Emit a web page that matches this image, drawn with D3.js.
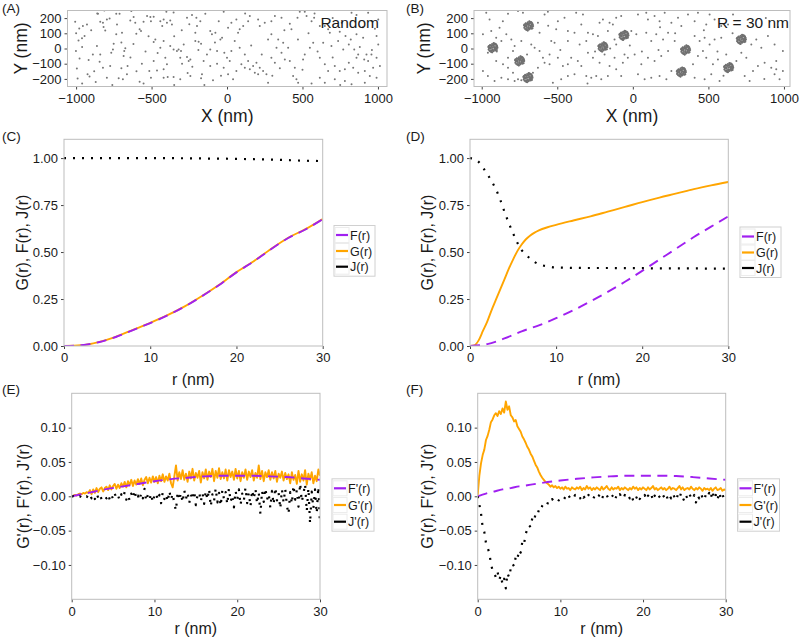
<!DOCTYPE html>
<html><head><meta charset="utf-8">
<script src="https://cdn.jsdelivr.net/npm/d3@7"></script>
<style>body{margin:0;background:#fff} svg{display:block;font-family:"Liberation Sans",Arial,Helvetica,sans-serif}</style>
</head><body><svg id="c" width="800" height="640"></svg>
<script>
// ---------- DATA ----------
// Panel A: random (CSR) points, nm
const randomPts = [[-1006,176],[-979,132],[-955,148],[-928,158],[-855,229],[-840,176],[-822,169],[-813,250],[-796,191],[-778,198],[-734,229],[-712,229],[-729,158],[-734,93],[-696,104],[-818,141],[-807,119],[-984,53],[-961,67],[-944,82],[-1001,-17],[-977,-65],[-995,-131],[-990,-198],[-924,-170],[-911,-185],[-917,-76],[-889,-39],[-862,16],[-840,-39],[-844,-87],[-822,-126],[-796,-192],[-774,-115],[-767,-28],[-751,31],[-756,-6],[-718,-196],[-690,-203],[-681,-17],[-674,1],[-685,-50],[-659,-115],[-663,-170],[-641,185],[-619,207],[-608,169],[-601,97],[-579,126],[-570,115],[-553,176],[-530,213],[-504,180],[-486,209],[-564,-100],[-579,-218],[-553,-231],[-515,-148],[-504,-192],[-486,-82],[-486,42],[-475,60],[-442,180],[-420,191],[-429,148],[-398,169],[-376,185],[-365,158],[-402,242],[-354,237],[-420,49],[-442,5],[-409,-61],[-398,-104],[-420,-137],[-464,-144],[-420,-192],[-393,-188],[-376,16],[-354,-6],[-321,-6],[-332,-17],[-305,-17],[-287,27],[-310,-61],[-265,-56],[-243,-72],[-298,-100],[-254,-82],[-354,-188],[-310,-203],[-261,-161],[-243,-181],[-210,49],[-188,45],[-172,31],[-210,104],[-199,148],[-177,180],[-144,229],[-111,115],[-100,93],[-77,104],[-55,180],[-44,60],[-33,71],[-22,242],[-18,-28],[-66,-17],[-111,-6],[-133,-39],[-155,-82],[-111,-115],[-66,-100],[-166,-170],[-172,-196],[-93,-209],[-22,-126],[0,-61],[-232,220],[-265,202],[-203,202],[-634,246],[-508,207],
[-960,-230],[-870,-220],[-760,-240],[-640,-60],[-620,30],[-540,-20],[-900,120],[-1000,100],[-860,230],[-700,40],[-600,-150],[-520,80],[-460,-30],[-350,80],[-300,120],[-250,160],[-150,-240],[-80,40],[-40,-180],[-190,-10],[-230,-120],[-350,-240],[-700,-130],[-880,-150],[-960,10],
[7,137],[29,169],[62,191],[84,126],[107,148],[140,180],[151,213],[206,191],[217,148],[250,169],[294,180],[317,213],[361,202],[416,163],[427,126],[467,202],[482,242],[515,242],[527,213],[560,180],[577,202],[615,148],[648,148],[670,126],[681,104],[825,235],[858,220],[935,235],[957,180],[1002,191],[747,110],[785,82],[820,60],[858,93],[902,71],[991,82],[1002,27],[957,-39],[935,-82],[909,-72],[869,-39],[843,-6],[807,27],[770,-6],[736,49],[692,16],[637,38],[615,-61],[648,-104],[670,-148],[714,-115],[747,-148],[781,-137],[807,-93],[836,-126],[869,-159],[913,-148],[946,-181],[991,-192],[1013,-115],[991,-61],[73,104],[51,49],[84,5],[118,-39],[140,-82],[95,-104],[62,-148],[118,-126],[151,-137],[173,-115],[195,-93],[217,-126],[239,-148],[261,-170],[206,-170],[184,-159],[294,-61],[317,-93],[328,5],[361,-28],[383,-72],[416,-82],[449,-126],[438,-181],[460,-203],[471,-225],[504,-72],[515,-39],[549,5],[571,38],[272,60],[294,93],[339,60],[372,38],[405,5],[29,-17],[18,-82],[7,-170],[40,-203],[272,-225],[615,-192],[648,-225],[714,-203],[781,-214],[825,-236],[913,-225],[968,-126],[924,-39],[858,-61],
[580,230],[700,200],[760,170],[900,140],[980,130],[540,100],[470,60],[160,20],[230,-40],[350,-130],[500,-140],[560,-230],[700,-60],[750,-240],[960,-10],[880,10],[120,230],[380,120],[600,-20],[300,-180]];

// Panel B: background points, cluster centres and a cluster member pattern (nm)
const backgroundPts = [[-970,235],[-948,191],[-992,93],[-937,115],[-904,71],[-882,137],[-870,49],[-837,93],[-826,229],[-804,60],[-782,16],[-760,246],[-727,235],[-738,49],[-672,27],[-650,5],[-617,-17],[-628,169],[-584,224],[-562,242],[-617,104],[-540,49],[-518,38],[-507,126],[-551,-39],[-595,-61],[-584,-93],[-551,-104],[-628,-126],[-661,-159],[-793,-17],[-826,-61],[-859,-104],[-904,-82],[-959,-28],[-992,-148],[-959,-181],[-915,-214],[-870,-192],[-826,-203],[-782,-214],[-760,-203],[-738,-209],[-826,-126],[-793,-159],[-496,-61],[-463,-115],[-430,-104],[-408,-61],[-364,-82],[-341,-115],[-386,-170],[-308,-181],[-275,-192],[-242,-181],[-430,-181],[-474,-203],[-529,-225],[-496,180],[-452,202],[-430,115],[-386,104],[-375,235],[-330,224],[-341,158],[-297,104],[-264,93],[-231,82],[-308,49],[-352,27],[-430,49],[-220,169],[-198,191],[-154,169],[-132,158],[-110,202],[-77,213],[-165,115],[-121,60],[-110,27],[-55,-39],[-33,-61],[-66,-93],[-121,-61],[-154,-115],[-110,-137],[-77,-181],[-165,-181],[-209,-203],[-297,-28],[-264,-61],[-220,-93],[-187,-39],
[-10,115],[23,93],[34,224],[89,235],[100,191],[144,213],[177,180],[211,235],[255,169],[299,202],[321,148],[365,224],[409,180],[431,235],[486,158],[508,224],[541,191],[585,148],[630,158],[663,224],[89,104],[122,49],[155,93],[200,60],[233,104],[277,49],[409,82],[442,49],[475,71],[508,27],[541,60],[585,71],[784,27],[817,60],[850,5],[894,82],[938,27],[993,-17],[949,-82],[916,-126],[872,-93],[828,-115],[795,-148],[751,-61],[718,-28],[685,-82],[618,-39],[563,-72],[530,-104],[486,-61],[464,-17],[431,-50],[398,-104],[233,-17],[188,-50],[144,-82],[100,-61],[56,-104],[12,-39],[34,-170],[78,-203],[122,-192],[177,-181],[222,-203],[255,-148],[409,-192],[475,-203],[519,-170],[574,-214],[740,-181],[773,-214],[938,-170],[971,-203],[993,-148],[949,-137],
[-900,-20],[-860,180],[-700,-40],[-560,150],[-480,-10],[-250,-20],[-150,0],[-20,20],[60,-20],[170,-10],[280,100],[470,120],[560,-20],[660,100],[880,200],[960,140],[870,-200],[600,-180],[180,140],[-300,-230]];
const clusterCentres = [[-926,5],[-749,-82],[-690,148],[-694,-192],[-198,10],[-59,86],[349,-10],[321,-155],[634,-126],[718,60]];
const clusterPattern = [[0,0],[10,5],[-8,12],[15,-10],[-14,-6],[22,8],[-20,14],[5,-22],[-5,24],[25,-5],[-25,-3],[12,20],[-12,-20],[18,-18],[-18,18],[28,10],[-27,10],[8,28],[-8,-28],[20,22],[-22,-20],[2,12],[-3,-12],[13,-2],[-13,2],[26,-15],[-15,-25],[16,26],[-28,-12],[0,-18],[9,-14],[-9,14],[20,0],[-20,0],[4,18],[30,0],[-30,5],[5,30],[-5,-30],[24,18]];

// Panels C/D: cumulative functions
const rCoarse = [0,2,4,6,8,10,12,14,16,18,20,22,24,26,28,30];
const F_random = [0,0.004,0.02,0.048,0.085,0.122,0.163,0.21,0.265,0.325,0.392,0.45,0.515,0.575,0.62,0.675];
const G_random = [0,0.004,0.021,0.049,0.086,0.123,0.164,0.211,0.266,0.326,0.393,0.451,0.516,0.576,0.622,0.676];
const J_random = [1,1,1,1,1,1,1,0.999,0.998,0.997,0.996,0.994,0.992,0.989,0.986,0.984];
const rDense = [0,0.5,1,1.5,2,2.5,3,3.5,4,4.5,5,5.5,6,6.5,7,7.5,8,9,10,12,14,16,18,20,22,24,26,28,30];
const G_clust = [0,0.003,0.03,0.08,0.13,0.19,0.245,0.30,0.355,0.41,0.46,0.505,0.54,0.568,0.588,0.603,0.615,0.632,0.645,0.668,0.69,0.715,0.74,0.766,0.79,0.812,0.835,0.855,0.873];
const J_clust = [1.0,0.995,0.98,0.95,0.915,0.878,0.835,0.78,0.715,0.655,0.6,0.55,0.51,0.486,0.465,0.447,0.435,0.424,0.418,0.416,0.415,0.415,0.414,0.414,0.413,0.413,0.413,0.412,0.412];
const F_clust = [0,0.01,0.04,0.078,0.11,0.148,0.19,0.238,0.288,0.342,0.40,0.46,0.52,0.58,0.635,0.69];

// Panels E/F: derivatives
const dF_random = [0,0.005,0.01,0.014,0.018,0.022,0.025,0.027,0.029,0.03,0.03,0.03,0.029,0.028,0.026,0.024];
const rDeriv = [0,1,2,3,4,5,6,8,10,12,14,16,18,20,22,24,26,28,30];
const dF_clust = [0,0.004,0.007,0.01,0.012,0.0145,0.016,0.02,0.023,0.0255,0.0275,0.029,0.03,0.03,0.03,0.0295,0.028,0.026,0.024];
const rStep = 0.2; // sample spacing (nm) of the noisy derivative series below
const dG_random = [0,0.001,0.002,0.001,0.003,0.004,0.003,0.005,0.004,0.006,0.005,
0.009,0.003,0.010,0.005,0.012,0.006,0.011,0.013,0.007,0.012,
0.014,0.009,0.016,0.010,0.015,0.018,0.011,0.017,0.012,0.019,
0.014,0.021,0.013,0.022,0.016,0.024,0.015,0.023,0.017,0.025,
0.018,0.026,0.016,0.024,0.028,0.019,0.027,0.020,0.029,0.021,
0.028,0.019,0.030,0.022,0.032,0.021,0.029,0.023,0.033,0.019,
0.013,0.029,0.045,0.023,0.035,0.025,0.038,0.024,0.033,0.021,
0.036,0.026,0.040,0.023,0.034,0.027,0.037,0.020,0.035,0.026,
0.039,0.024,0.036,0.028,0.040,0.022,0.037,0.027,0.041,0.025,
0.035,0.026,0.039,0.023,0.038,0.028,0.036,0.024,0.040,0.026,
0.037,0.022,0.035,0.027,0.039,0.024,0.036,0.028,0.038,0.023,
0.034,0.027,0.045,0.025,0.037,0.022,0.035,0.028,0.038,0.024,
0.035,0.026,0.037,0.021,0.033,0.027,0.036,0.023,0.034,0.025,
0.032,0.019,0.035,0.024,0.031,0.018,0.037,0.021,0.032,0.023,
0.038,0.017,0.033,0.024,0.035,0.019,0.030,0.022,0.039,0.030];
const dJ_random = [0,0.000,-0.001,0.001,-0.001,0.000,-0.002,0.001,-0.001,0.000,-0.002,
0.003,-0.003,0.002,-0.004,0.004,-0.002,0.003,-0.004,0.001,0.000,
-0.003,0.003,-0.005,0.002,-0.004,0.004,-0.003,0.001,-0.006,0.003,
-0.002,0.006,-0.005,0.002,-0.006,0.004,-0.003,0.009,-0.004,0.001,
-0.006,0.005,-0.003,0.011,-0.007,0.002,-0.005,0.004,-0.009,0.001,
0.005,-0.006,0.002,-0.010,0.006,-0.004,0.003,-0.008,0.008,-0.005,
0.004,-0.011,-0.021,0.007,-0.006,0.005,-0.009,0.009,-0.004,0.006,
-0.010,0.003,-0.005,0.008,-0.013,0.002,0.006,-0.008,0.005,-0.011,
0.008,-0.005,0.011,-0.015,0.003,-0.007,0.012,-0.009,0.005,-0.014,
0.009,-0.004,0.006,-0.012,0.012,-0.008,0.002,-0.016,0.008,-0.005,
0.010,-0.013,0.004,-0.006,0.013,-0.010,0.005,-0.015,0.009,-0.004,
0.011,-0.011,0.006,-0.026,0.008,-0.008,0.012,-0.005,0.004,-0.017,
0.008,-0.012,0.013,-0.006,0.005,-0.018,0.010,-0.009,0.011,-0.014,
-0.026,0.006,-0.011,0.016,-0.005,0.009,-0.015,0.019,-0.008,0.004,
0.018,-0.022,0.012,-0.040,0.007,-0.018,0.010,-0.025,0.014,-0.040];
const dG_clust = [0.002,0.030,0.048,0.060,0.068,0.082,0.088,0.097,0.108,0.112,0.118,
0.121,0.117,0.124,0.120,0.128,0.122,0.138,0.126,0.131,0.118,
0.115,0.109,0.111,0.102,0.098,0.094,0.087,0.083,0.078,0.072,
0.068,0.062,0.058,0.052,0.046,0.042,0.036,0.031,0.027,0.024,
0.021,0.019,0.017,0.014,0.016,0.013,0.015,0.012,0.014,0.011,
0.013,0.010,0.014,0.011,0.012,0.009,0.013,0.011,0.010,0.013,
0.011,0.014,0.009,0.012,0.010,0.015,0.011,0.013,0.009,0.012,
0.010,0.013,0.011,0.009,0.014,0.010,0.012,0.015,0.011,0.009,
0.013,0.010,0.012,0.011,0.014,0.009,0.012,0.010,0.013,0.011,
0.009,0.012,0.010,0.014,0.011,0.013,0.009,0.012,0.010,0.013,
0.011,0.009,0.013,0.010,0.012,0.015,0.010,0.012,0.009,0.011,
0.013,0.010,0.012,0.009,0.011,0.014,0.010,0.012,0.011,0.009,
0.012,0.015,0.010,0.013,0.009,0.011,0.012,0.010,0.014,0.011,
0.009,0.012,0.010,0.013,0.011,0.008,0.012,0.010,0.011,0.009,
0.012,0.008,0.011,0.013,0.009,0.010,0.012,0.008,0.010,0.009];
const dJ_clust = [0.000,-0.012,-0.025,-0.045,-0.052,-0.068,-0.075,-0.082,-0.098,-0.108,-0.112,
-0.118,-0.110,-0.122,-0.115,-0.128,-0.120,-0.134,-0.112,-0.118,-0.105,
-0.098,-0.102,-0.088,-0.092,-0.078,-0.082,-0.066,-0.070,-0.055,-0.048,
-0.042,-0.045,-0.032,-0.036,-0.026,-0.028,-0.020,-0.022,-0.014,-0.011,
-0.009,-0.012,-0.006,-0.008,-0.004,-0.007,-0.005,-0.003,-0.006,-0.004,
-0.002,-0.005,-0.001,-0.004,0.001,-0.003,0.000,-0.002,0.002,-0.001,
0.001,-0.003,0.003,-0.002,0.000,-0.004,0.002,-0.001,0.001,-0.003,
0.002,-0.002,0.000,0.003,-0.004,0.001,-0.002,0.002,-0.003,0.001,
-0.001,0.002,-0.005,0.001,-0.002,0.003,-0.001,-0.004,0.002,-0.002,
0.001,-0.003,0.002,-0.006,0.001,-0.002,0.003,-0.004,0.000,-0.002,
0.002,-0.005,0.001,-0.002,0.003,-0.006,0.001,-0.003,0.002,-0.001,
-0.004,0.002,-0.002,0.003,-0.005,0.001,-0.003,0.004,-0.001,-0.006,
0.002,-0.003,0.005,-0.002,-0.007,0.001,-0.004,0.003,-0.001,-0.005,
0.002,-0.009,0.001,-0.003,0.004,-0.002,-0.006,0.003,-0.001,0.005,
-0.003,0.008,-0.004,0.002,-0.006,0.006,-0.002,0.004,-0.005,-0.003];

const xyTicks = [-1000,-500,0,500,1000];
const yTicksXY = [-200,-100,0,100,200];
const rTicks = [0,10,20,30];
const cumTicks = [0,0.25,0.5,0.75,1];
const derivTicks = [-0.1,-0.05,0,0.05,0.1];
const legendCum = ["F(r)","G(r)","J(r)"];
const legendDeriv = ["F'(r)","G'(r)","J'(r)"];

// ---------- STYLE ----------
const PURPLE = "#A020F0", ORANGE = "#FFA500", BLACK = "#000";
const DASH = "10,6.5", DOT = "2,7";
const svg = d3.select("#c");
const TXT = "#1a1a1a";

function panel(c) {
  const g = svg.append("g");
  const x = d3.scaleLinear().domain(c.xd).range([c.l, c.r]);
  const y = d3.scaleLinear().domain(c.yd).range([c.b, c.t]);
  const xa = g.append("g").attr("transform", `translate(0,${c.b})`)
    .call(d3.axisBottom(x).tickValues(c.xt).tickFormat(c.xf).tickSize(3).tickSizeOuter(0).tickPadding(4));
  const ya = g.append("g").attr("transform", `translate(${c.l},0)`)
    .call(d3.axisLeft(y).tickValues(c.yt).tickFormat(c.yf).tickSize(3).tickSizeOuter(0).tickPadding(3));
  [xa, ya].forEach(a => {
    a.select(".domain").remove();
    a.selectAll("line").attr("stroke", "#444");
    a.selectAll("text").attr("fill", TXT).style("font-size", "13px").style("font-family", '"Liberation Sans",Arial,sans-serif');
  });
  const id = "clip" + c.name;
  svg.append("clipPath").attr("id", id).append("rect")
    .attr("x", c.l).attr("y", c.t).attr("width", c.r - c.l).attr("height", c.b - c.t);
  const plot = g.append("g").attr("clip-path", `url(#${id})`);
  g.append("rect").attr("x", c.l).attr("y", c.t).attr("width", c.r - c.l).attr("height", c.b - c.t)
    .attr("fill", "none").attr("stroke", "#bdbdbd").attr("stroke-width", 1);
  g.append("text").attr("x", (c.l + c.r) / 2).attr("y", c.xty).attr("text-anchor", "middle")
    .attr("fill", TXT).style("font-size", c.tfs + "px").text(c.xtitle);
  g.append("text").attr("transform", `translate(${c.ytx},${(c.t + c.b) / 2}) rotate(-90)`)
    .attr("text-anchor", "middle").attr("dy", "0.35em").attr("fill", TXT).style("font-size", c.tfs + "px").text(c.ytitle);
  g.append("text").attr("x", c.lx).attr("y", c.ly).attr("fill", TXT).style("font-size", "13.5px").text(c.letter);
  return { x, y, plot, g };
}

function drawLine(p, xs, ys, color, dash, curve) {
  const data = ys.map((v, i) => [xs(i), v]);
  p.plot.append("path").datum(data)
    .attr("d", d3.line().x(d => p.x(d[0])).y(d => p.y(d[1])).curve(curve || d3.curveLinear))
    .attr("fill", "none").attr("stroke", color).attr("stroke-width", dash === DOT ? 2.2 : 1.9)
    .attr("stroke-dasharray", dash || null).attr("stroke-linecap", "butt").attr("stroke-linejoin", "round");
}

function legend(g, x0, ys, labels, colors) {
  const w = labels[0].length > 4 ? 42 : 41;
  g.append("rect").attr("x", x0).attr("y", ys[0] - 9.5).attr("width", w).attr("height", ys[2] - ys[0] + 19)
    .attr("fill", "#fff").attr("stroke", "#d0d0d0");
  labels.forEach((lab, i) => {
    g.append("rect").attr("x", x0 + 1).attr("y", ys[i] - 7.5).attr("width", 14).attr("height", 15)
      .attr("fill", "#fff").attr("stroke", "#ececec");
    g.append("line").attr("x1", x0 + 2).attr("x2", x0 + 14).attr("y1", ys[i]).attr("y2", ys[i])
      .attr("stroke", colors[i]).attr("stroke-width", 2.2);
    g.append("text").attr("x", x0 + 16).attr("y", ys[i]).attr("dy", "0.36em")
      .attr("fill", TXT).style("font-size", "12.5px").text(lab);
  });
}

const fmtInt = d3.format("d"), fmt2 = d3.format(".2f"), fmtR = d3.format("d");

// ---------- A ----------
const pA = panel({name:"A", l:67.5, r:387, t:10.5, b:86.5, xd:[-1057,1060], yd:[-250,250],
  xt:xyTicks, yt:yTicksXY, xf:fmtInt, yf:fmtInt, xtitle:"X (nm)", ytitle:"Y (nm)",
  xty:122, ytx:21, tfs:17.5, letter:"(A)", lx:2, ly:13});
pA.plot.selectAll("circle").data(randomPts).join("circle")
  .attr("cx", d => pA.x(d[0])).attr("cy", d => pA.y(d[1])).attr("r", 1).attr("fill", "#767676");
pA.g.append("text").attr("x", 379).attr("y", 28).attr("text-anchor", "end").attr("fill", TXT)
  .style("font-size", "15.5px").text("Random");

// ---------- B ----------
const pB = panel({name:"B", l:474, r:790, t:10.5, b:86.5, xd:[-1051,1040], yd:[-250,250],
  xt:xyTicks, yt:yTicksXY, xf:fmtInt, yf:fmtInt, xtitle:"X (nm)", ytitle:"Y (nm)",
  xty:122, ytx:424, tfs:17.5, letter:"(B)", lx:406, ly:13});
const clusterPts = [];
clusterCentres.forEach(c => clusterPattern.forEach(o => clusterPts.push([c[0] + o[0], c[1] + o[1]])));
pB.plot.selectAll("circle.bg").data(backgroundPts).join("circle").attr("class", "bg")
  .attr("cx", d => pB.x(d[0])).attr("cy", d => pB.y(d[1])).attr("r", 1).attr("fill", "#767676");
pB.plot.selectAll("circle.cl").data(clusterPts).join("circle").attr("class", "cl")
  .attr("cx", d => pB.x(d[0])).attr("cy", d => pB.y(d[1])).attr("r", 1.1).attr("fill", "#707070");
pB.g.append("text").attr("x", 789).attr("y", 28).attr("text-anchor", "end").attr("fill", TXT)
  .style("font-size", "15.5px").text("R = 30 nm");

// ---------- C ----------
const pC = panel({name:"C", l:64, r:322.7, t:139.3, b:346, xd:[0,30], yd:[0,1.1],
  xt:rTicks, yt:cumTicks, xf:fmtR, yf:fmt2, xtitle:"r (nm)", ytitle:"G(r), F(r), J(r)",
  xty:385, ytx:22, tfs:16, letter:"(C)", lx:2, ly:141});
drawLine(pC, i => rCoarse[i], G_random, ORANGE, null, d3.curveMonotoneX);
drawLine(pC, i => rCoarse[i], F_random, PURPLE, DASH, d3.curveMonotoneX);
drawLine(pC, i => rCoarse[i], J_random, BLACK, DOT, d3.curveMonotoneX);
legend(pC.g, 334, [235, 251, 266.7], legendCum, [PURPLE, ORANGE, BLACK]);

// ---------- D ----------
const pD = panel({name:"D", l:470, r:728.3, t:139.3, b:346, xd:[0,30], yd:[0,1.1],
  xt:rTicks, yt:cumTicks, xf:fmtR, yf:fmt2, xtitle:"r (nm)", ytitle:"G(r), F(r), J(r)",
  xty:385, ytx:427, tfs:16, letter:"(D)", lx:406, ly:141});
drawLine(pD, i => rDense[i], G_clust, ORANGE, null, d3.curveMonotoneX);
drawLine(pD, i => rCoarse[i], F_clust, PURPLE, DASH, d3.curveMonotoneX);
drawLine(pD, i => rDense[i], J_clust, BLACK, DOT, d3.curveMonotoneX);
legend(pD.g, 740, [236.5, 252.5, 268], legendCum, [PURPLE, ORANGE, BLACK]);

// ---------- E ----------
const pE = panel({name:"E", l:71.7, r:320, t:393.3, b:599.3, xd:[0,30], yd:[-0.15,0.15],
  xt:rTicks, yt:derivTicks, xf:fmtR, yf:fmt2, xtitle:"r (nm)", ytitle:"G'(r), F'(r), J'(r)",
  xty:634, ytx:23, tfs:16, letter:"(E)", lx:2, ly:394});
drawLine(pE, i => i * rStep, dG_random, ORANGE, null);
drawLine(pE, i => rCoarse[i], dF_random, PURPLE, DASH, d3.curveMonotoneX);
drawLine(pE, i => i * rStep, dJ_random, BLACK, DOT);
legend(pE.g, 332, [488.3, 505, 521.7], legendDeriv, [PURPLE, ORANGE, BLACK]);

// ---------- F ----------
const pF = panel({name:"F", l:477.7, r:725.7, t:393.3, b:599.3, xd:[0,30], yd:[-0.15,0.15],
  xt:rTicks, yt:derivTicks, xf:fmtR, yf:fmt2, xtitle:"r (nm)", ytitle:"G'(r), F'(r), J'(r)",
  xty:634, ytx:427, tfs:16, letter:"(F)", lx:406, ly:394});
drawLine(pF, i => i * rStep, dG_clust, ORANGE, null);
drawLine(pF, i => rDeriv[i], dF_clust, PURPLE, DASH, d3.curveMonotoneX);
drawLine(pF, i => i * rStep, dJ_clust, BLACK, DOT);
legend(pF.g, 737.5, [488.3, 505, 521.7], legendDeriv, [PURPLE, ORANGE, BLACK]);
</script></body></html>
